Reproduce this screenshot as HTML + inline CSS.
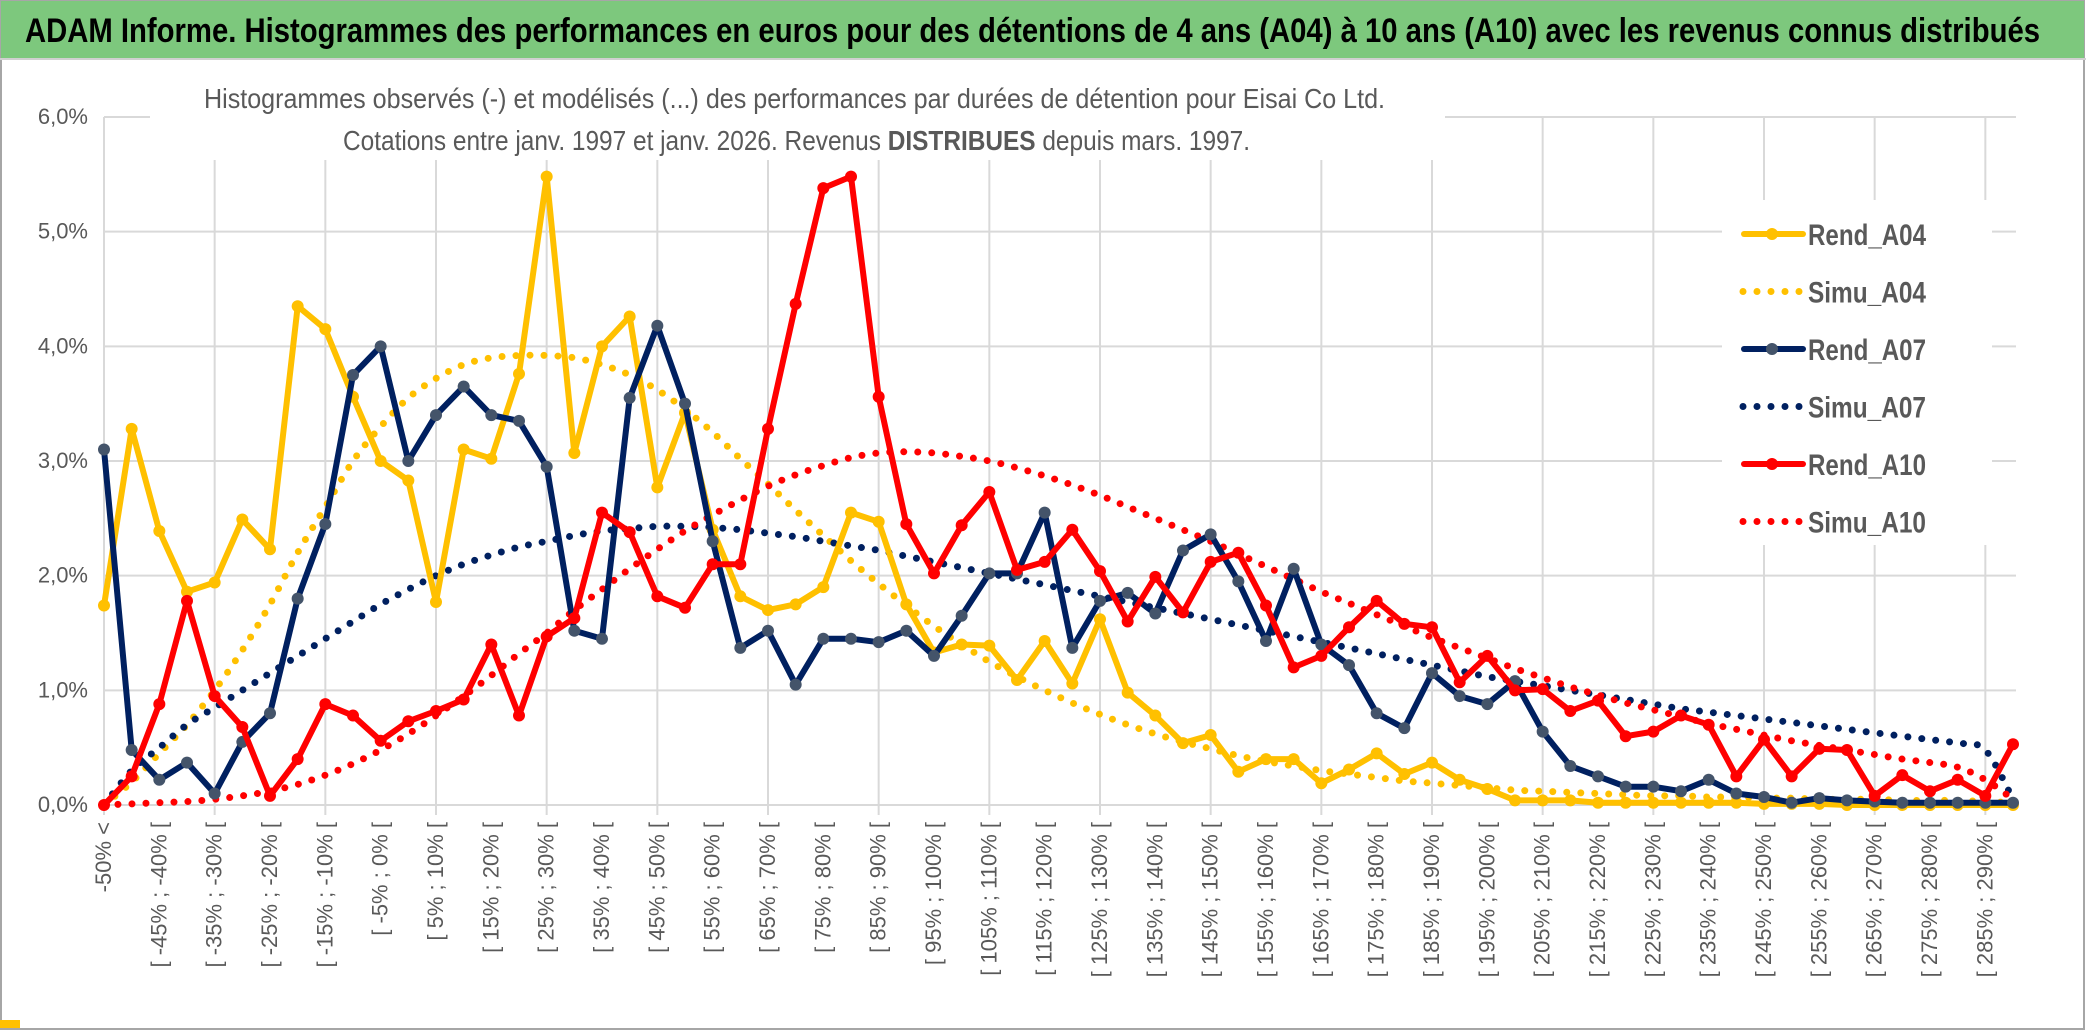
<!DOCTYPE html>
<html><head><meta charset="utf-8">
<style>
html,body{margin:0;padding:0;background:#fff;}
svg{display:block;font-family:"Liberation Sans Narrow","Liberation Sans",sans-serif;}
</style></head>
<body>
<svg id="chart" width="2086" height="1031" viewBox="0 0 2086 1031" xmlns="http://www.w3.org/2000/svg">
<rect x="0" y="0" width="2086" height="1031" fill="#fff"/>
<rect x="1" y="1" width="2083" height="1028" fill="none" stroke="#a6a6a6" stroke-width="2"/>
<rect x="1" y="1" width="2083" height="57" fill="#7dc87d"/>
<line x1="0" y1="59" x2="2086" y2="59" stroke="#d0d0d0" stroke-width="2"/>
<text x="25" y="42" font-size="34" font-weight="bold" fill="#000" textLength="2015" lengthAdjust="spacingAndGlyphs">ADAM Informe. Histogrammes des performances en euros pour des détentions de 4 ans (A04) à 10 ans (A10) avec les revenus connus distribués</text>
<rect x="0" y="1020" width="20" height="8" fill="#ffc000"/>
<g id="grid"></g>
<g id="axes"></g>
<rect x="150" y="62" width="1295" height="98" fill="#fff"/>
<text x="204" y="108" font-size="28" fill="#595959" textLength="1181" lengthAdjust="spacingAndGlyphs">Histogrammes observés (-) et modélisés (...) des performances par durées de détention pour Eisai Co Ltd.</text>
<text x="343" y="150" font-size="28" fill="#595959" textLength="907" lengthAdjust="spacingAndGlyphs">Cotations entre janv. 1997 et janv. 2026. Revenus <tspan font-weight="bold">DISTRIBUES</tspan> depuis mars. 1997.</text>
<g id="series"></g>
<g id="legend"></g>
</svg>
<script>
const rendA04 = [1.74,3.28,2.39,1.86,1.94,2.49,2.23,4.35,4.15,3.56,3.00,2.83,1.77,3.10,3.02,3.76,5.48,3.07,4.00,4.26,2.77,3.42,2.40,1.82,1.70,1.75,1.90,2.55,2.47,1.75,1.33,1.40,1.39,1.09,1.43,1.06,1.62,0.98,0.78,0.54,0.61,0.29,0.40,0.40,0.19,0.31,0.45,0.27,0.37,0.22,0.14,0.04,0.04,0.04,0.02,0.02,0.02,0.02,0.02,0.02,0.01,0.01,0.01,0,0,0,0,0,0,0];
const simuA04 = [0,0.2,0.45,0.7,1.0,1.35,1.75,2.2,2.6,3.0,3.3,3.55,3.72,3.84,3.9,3.92,3.92,3.9,3.84,3.75,3.62,3.45,3.25,3.02,2.8,2.57,2.35,2.13,1.93,1.74,1.56,1.4,1.25,1.12,1.0,0.89,0.79,0.7,0.62,0.55,0.49,0.43,0.38,0.34,0.3,0.27,0.24,0.21,0.19,0.17,0.15,0.13,0.12,0.11,0.1,0.09,0.08,0.08,0.07,0.07,0.06,0.06,0.05,0.05,0.05,0.04,0.04,0.04,0.03,0.02];
const rendA07 = [3.10,0.48,0.22,0.37,0.10,0.55,0.80,1.80,2.45,3.75,4.00,3.00,3.40,3.65,3.40,3.35,2.95,1.52,1.45,3.55,4.18,3.50,2.30,1.37,1.52,1.05,1.45,1.45,1.42,1.52,1.30,1.65,2.02,2.02,2.55,1.37,1.78,1.85,1.67,2.22,2.36,1.95,1.43,2.06,1.40,1.22,0.80,0.67,1.15,0.95,0.88,1.08,0.64,0.34,0.25,0.16,0.16,0.12,0.22,0.10,0.07,0.02,0.06,0.04,0.03,0.02,0.02,0.02,0.02,0.02];
const simuA07 = [0,0.3,0.5,0.7,0.85,1.0,1.15,1.3,1.45,1.6,1.75,1.88,2.0,2.1,2.18,2.25,2.3,2.35,2.39,2.41,2.43,2.43,2.42,2.4,2.37,2.34,2.3,2.26,2.22,2.17,2.12,2.07,2.02,1.97,1.92,1.87,1.82,1.77,1.72,1.67,1.62,1.57,1.52,1.47,1.42,1.37,1.32,1.27,1.22,1.17,1.12,1.08,1.04,1.0,0.96,0.92,0.88,0.84,0.81,0.78,0.75,0.72,0.69,0.66,0.63,0.6,0.57,0.54,0.48,0.05];
const rendA10 = [0,0.25,0.88,1.78,0.95,0.68,0.08,0.40,0.88,0.78,0.56,0.73,0.82,0.92,1.40,0.78,1.47,1.63,2.55,2.38,1.82,1.72,2.10,2.10,3.28,4.37,5.38,5.48,3.56,2.45,2.02,2.44,2.73,2.05,2.12,2.40,2.04,1.60,1.99,1.68,2.12,2.20,1.74,1.20,1.30,1.55,1.78,1.58,1.55,1.07,1.30,1.00,1.01,0.82,0.91,0.60,0.64,0.78,0.70,0.25,0.57,0.25,0.49,0.48,0.08,0.26,0.12,0.22,0.08,0.53];
const simuA10 = [0,0.01,0.02,0.03,0.05,0.08,0.12,0.18,0.26,0.36,0.48,0.62,0.78,0.95,1.13,1.32,1.5,1.7,1.88,2.06,2.23,2.39,2.53,2.66,2.78,2.88,2.96,3.03,3.07,3.08,3.07,3.04,3.0,2.94,2.87,2.79,2.7,2.6,2.5,2.4,2.3,2.19,2.08,1.97,1.86,1.76,1.66,1.56,1.46,1.37,1.28,1.19,1.11,1.03,0.96,0.89,0.83,0.77,0.71,0.66,0.61,0.56,0.52,0.48,0.44,0.4,0.37,0.33,0.22,0.05];
const yTicks = [0,1,2,3,4,5,6];
const yTickLabels = ["0,0%","1,0%","2,0%","3,0%","4,0%","5,0%","6,0%"];
const categories = ["-50% <"];
for (let k = 1; k < 70; k++) { categories.push("[ " + (-55 + 5*k) + "% ; " + (-50 + 5*k) + "% ["); }

const NS = "http://www.w3.org/2000/svg";
const X0 = 104, X1 = 2013, Y0 = 805, YTOP = 117;
function xScale(i){ return X0 + i * (X1 - X0) / (categories.length - 1); }
function yScale(v){ return Y0 - v * (Y0 - YTOP) / 6; }
function mk(tag, attrs, parent){ const e = document.createElementNS(NS, tag); for (const k in attrs) e.setAttribute(k, attrs[k]); parent.appendChild(e); return e; }

const grid = document.getElementById('grid');
const axes = document.getElementById('axes');
yTicks.forEach((t, j) => {
  const gl = mk('line', {x1: X0, x2: X1 + 3, y1: yScale(t), y2: yScale(t), stroke: '#d9d9d9', 'stroke-width': 2}, grid);
  
  
  const tl = mk('text', {x: 88, y: yScale(t) + 7, 'text-anchor': 'end', 'font-size': 22, fill: '#595959'}, axes);
  tl.textContent = yTickLabels[j];
  
  
});
for (let i = 0; i < categories.length; i += 4) {
  const vl = mk('line', {x1: xScale(i), x2: xScale(i), y1: YTOP, y2: Y0 + 10, stroke: '#d9d9d9', 'stroke-width': 2}, grid);
  
  
}
for (let i = 0; i < categories.length; i += 2) {
  const x = xScale(i) + 7, y = 822;
  const lt = mk('text', {x: x, y: y, 'text-anchor': 'end', 'font-size': 22, fill: '#595959', transform: 'rotate(-90 ' + x + ' ' + y + ')'}, axes);
  lt.textContent = categories[i];
  
  
}

const series = document.getElementById('series');
function straightPath(vals){ return vals.map((v, i) => (i ? 'L' : 'M') + xScale(i).toFixed(1) + ' ' + yScale(v).toFixed(1)).join(' '); }
function smoothPath(vals){
  const p = vals.map((v, i) => [xScale(i), yScale(v)]);
  let d = 'M' + p[0][0] + ' ' + p[0][1];
  for (let i = 0; i < p.length - 1; i++) {
    const a = p[Math.max(0, i - 1)], b = p[i], c = p[i + 1], e = p[Math.min(p.length - 1, i + 2)];
    const c1x = b[0] + (c[0] - a[0]) / 6, c1y = b[1] + (c[1] - a[1]) / 6;
    const c2x = c[0] - (e[0] - b[0]) / 6, c2y = c[1] - (e[1] - b[1]) / 6;
    d += ' C' + c1x.toFixed(1) + ' ' + c1y.toFixed(1) + ' ' + c2x.toFixed(1) + ' ' + c2y.toFixed(1) + ' ' + c[0].toFixed(1) + ' ' + c[1].toFixed(1);
  }
  return d;
}
function dotted(vals, color, name){
  const p = mk('path', {d: smoothPath(vals), fill: 'none', stroke: color, 'stroke-width': 7, 'stroke-linecap': 'round', 'stroke-dasharray': '0 14'}, series);
  
  
}
function solid(vals, color, marker, name){
  const p = mk('path', {d: straightPath(vals), fill: 'none', stroke: color, 'stroke-width': 6, 'stroke-linejoin': 'round'}, series);
  
  
  vals.forEach((v, i) => {
    const c = mk('circle', {cx: xScale(i), cy: yScale(v), r: 6, fill: marker}, series);
    
    
  });
}
dotted(simuA04, '#ffc000', 'simu-a04-line');
dotted(simuA07, '#002060', 'simu-a07-line');
dotted(simuA10, '#ff0000', 'simu-a10-line');
solid(rendA04, '#ffc000', '#ffc000', 'rend-a04-line');
solid(rendA07, '#002060', '#44546a', 'rend-a07-line');
solid(rendA10, '#ff0000', '#ff0000', 'rend-a10-line');

const legend = document.getElementById('legend');
const lbg = mk('rect', {x: 1722, y: 200, width: 270, height: 345, fill: '#fff'}, legend);


const legendNames = ['Rend_A04','Simu_A04','Rend_A07','Simu_A07','Rend_A10','Simu_A10'];
const legendColors = ['#ffc000','#ffc000','#002060','#002060','#ff0000','#ff0000'];
const legendMarkers = ['#ffc000',null,'#44546a',null,'#ff0000',null];
legendNames.forEach((n, j) => {
  const y = 234 + j * 57.5;
  const col = legendColors[j];
  if (legendMarkers[j]) {
    const l = mk('line', {x1: 1744, x2: 1803, y1: y, y2: y, stroke: col, 'stroke-width': 6, 'stroke-linecap': 'round'}, legend);
    
    
    const c = mk('circle', {cx: 1772, cy: y, r: 6, fill: legendMarkers[j]}, legend);
    
    
  } else {
    const l = mk('line', {x1: 1743, x2: 1800, y1: y, y2: y, stroke: col, 'stroke-width': 7, 'stroke-linecap': 'round', 'stroke-dasharray': '0 14'}, legend);
    
    
  }
  const t = mk('text', {x: 1808, y: y + 11, 'font-size': 30, 'font-weight': 'bold', fill: '#595959', textLength: 118, lengthAdjust: 'spacingAndGlyphs'}, legend);
  t.textContent = n;
  
  
});
</script>
</body></html>
